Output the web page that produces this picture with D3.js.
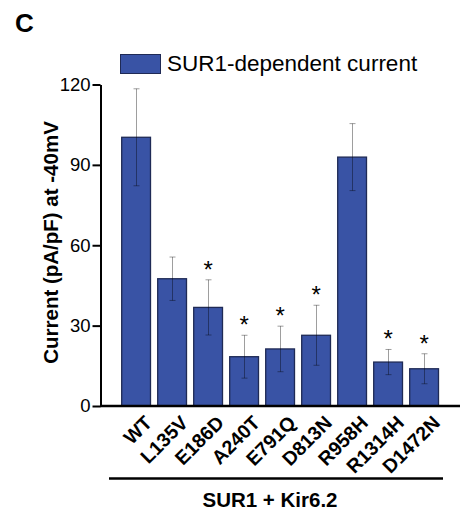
<!DOCTYPE html>
<html>
<head>
<meta charset="utf-8">
<script src="https://cdn.jsdelivr.net/npm/d3@7"></script>
<style>
  body { margin: 0; background: #fff; }
  svg text { font-family: "Liberation Sans", Arial, sans-serif; fill: #000; }
</style>
</head>
<body>
<div id="viz"></div>
<script>
"use strict";

var w = 462;
var h = 512;

// data
var mutants = ["WT", "L135V", "E186D", "A240T", "E791Q", "D813N", "R958H", "R1314H", "D1472N"];
var current = [100.3, 47.5, 36.8, 18.4, 21.3, 26.4, 92.9, 16.4, 13.9];
var sem = [18.1, 8.1, 10.3, 8.0, 8.5, 11.2, 12.5, 4.7, 5.6];
var significant = [false, false, true, true, true, true, false, true, true];
var yTicks = [0, 30, 60, 90, 120];

var barColor = "#3953a5";
var barEdge = "#1f2a55";

var svg = d3.select("#viz")
  .append("svg")
  .attr("width", w)
  .attr("height", h);

var x = d3.scaleBand()
  .domain(mutants)
  .range([103.7, 456.5])
  .paddingInner(0.2)
  .paddingOuter(0.5);

var y = d3.scaleLinear()
  .domain([0, 120])
  .range([406, 84.5]);

// panel letter
svg.append("text")
  .attr("x", 15)
  .attr("y", 32)
  .style("font-size", "26px")
  .style("font-weight", "bold")
  .text("C");

// legend
svg.append("rect")
  .attr("x", 120.5)
  .attr("y", 54.5)
  .attr("width", 40)
  .attr("height", 19)
  .attr("fill", barColor)
  .attr("stroke", barEdge)
  .attr("stroke-width", 1);

svg.append("text")
  .attr("x", 167)
  .attr("y", 71)
  .style("font-size", "22.5px")
  .text("SUR1-dependent current");

// bars
svg.append("g")
  .selectAll("rect.bar")
  .data(mutants).enter()
  .append("rect")
  .classed("bar", true)
  .attr("x", function(d) { return x(d); })
  .attr("width", x.bandwidth())
  .attr("y", function(d, i) { return y(current[i]); })
  .attr("height", function(d, i) { return y(0) - y(current[i]); })
  .attr("fill", barColor)
  .attr("stroke", barEdge)
  .attr("stroke-width", 1.3);

// error bars
var err = svg.append("g")
  .attr("stroke", "rgba(0,0,0,0.38)")
  .attr("stroke-width", 1);

mutants.forEach(function(d, i) {
  var cx = Math.round(x(d) + x.bandwidth() / 2) + 0.5;
  var top = y(current[i] + sem[i]);
  var bot = y(current[i] - sem[i]);
  err.append("line").attr("x1", cx).attr("x2", cx).attr("y1", top).attr("y2", bot);
  err.append("line").attr("x1", cx - 3).attr("x2", cx + 3).attr("y1", top).attr("y2", top);
  err.append("line").attr("x1", cx - 3).attr("x2", cx + 3).attr("y1", bot).attr("y2", bot);
});

// significance stars
svg.append("g")
  .selectAll("text.star")
  .data(mutants.filter(function(d, i) { return significant[i]; })).enter()
  .append("text")
  .classed("star", true)
  .attr("text-anchor", "middle")
  .attr("x", function(d) { return x(d) + x.bandwidth() / 2; })
  .attr("y", function(d) {
    var i = mutants.indexOf(d);
    return y(current[i] + sem[i]) - 2;
  })
  .style("font-size", "24px")
  .text("*");

// y axis
var yAxis = svg.append("g")
  .attr("transform", "translate(100.5,0)")
  .call(d3.axisLeft(y).tickValues(yTicks).tickSize(8).tickPadding(2).tickSizeOuter(0));

yAxis.select(".domain").attr("stroke", "#000").attr("stroke-width", 2);
yAxis.selectAll(".tick line").attr("stroke", "#000").attr("stroke-width", 2);
yAxis.selectAll(".tick text")
  .style("font-size", "18.5px")
  .style("font-family", "'Liberation Sans', Arial, sans-serif");

// x axis baseline
svg.append("line")
  .attr("x1", 100)
  .attr("x2", 460)
  .attr("y1", 406)
  .attr("y2", 406)
  .attr("stroke", "#000")
  .attr("stroke-width", 2.5);

// x labels
svg.append("g")
  .selectAll("text.xlab")
  .data(mutants).enter()
  .append("text")
  .classed("xlab", true)
  .attr("text-anchor", "end")
  .attr("transform", function(d) {
    var cx = x(d) + x.bandwidth() / 2;
    return "translate(" + (cx + 17) + ",424) rotate(-45)";
  })
  .style("font-size", "19.5px")
  .style("font-weight", "bold")
  .text(function(d) { return d; });

// group line and label
svg.append("line")
  .attr("x1", 109)
  .attr("x2", 443)
  .attr("y1", 478.5)
  .attr("y2", 478.5)
  .attr("stroke", "#000")
  .attr("stroke-width", 2.5);

svg.append("text")
  .attr("x", 270)
  .attr("y", 507)
  .attr("text-anchor", "middle")
  .style("font-size", "20.5px")
  .style("font-weight", "bold")
  .text("SUR1 + Kir6.2");

// y title
svg.append("text")
  .attr("transform", "translate(58,242.5) rotate(-90)")
  .attr("text-anchor", "middle")
  .style("font-size", "20.5px")
  .style("font-weight", "bold")
  .text("Current (pA/pF) at -40mV");
</script>
</body>
</html>
